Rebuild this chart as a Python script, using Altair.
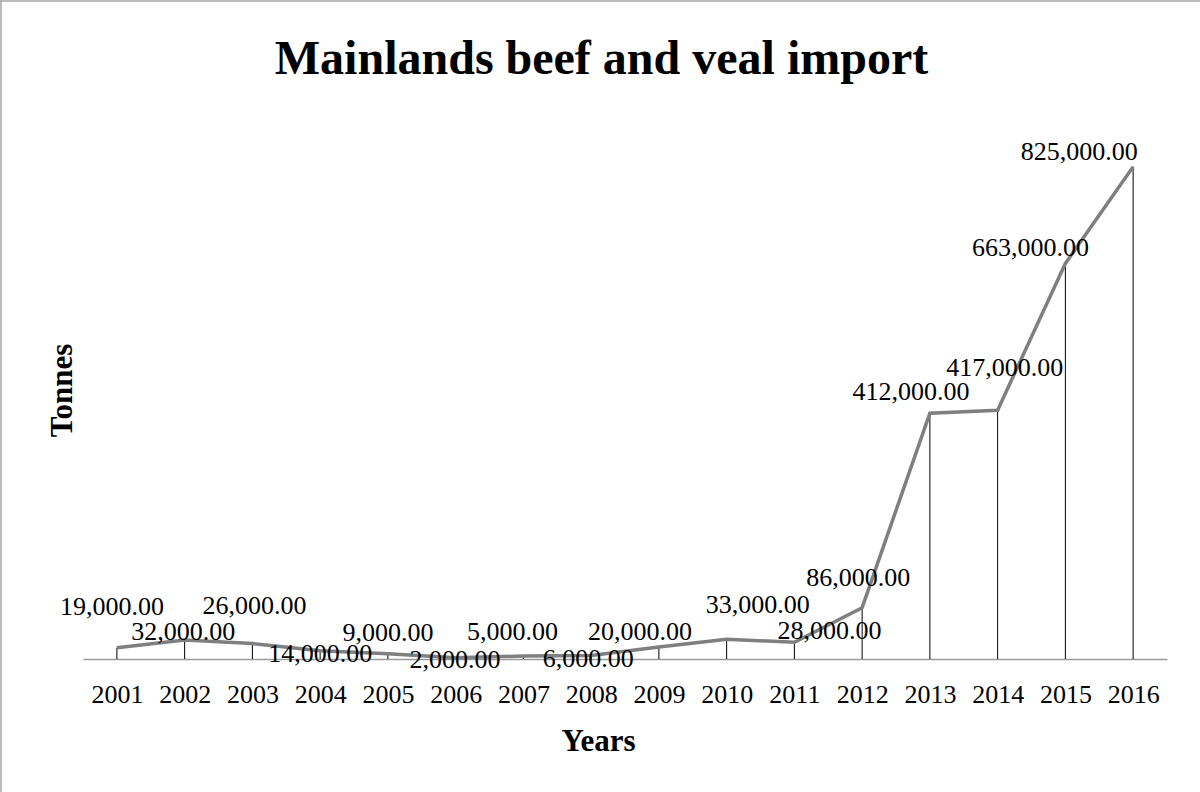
import altair as alt
import pandas as pd

YEARS = ["2001", "2002", "2003", "2004", "2005", "2006", "2007", "2008",
         "2009", "2010", "2011", "2012", "2013", "2014", "2015", "2016"]
TONNES = [19000, 32000, 26000, 14000, 9000, 2000, 5000, 6000,
          20000, 33000, 28000, 86000, 412000, 417000, 663000, 825000]

# label placement (pixel nudges, styling only)
LABEL_DX = [-5, -1.5, 2, 0, 0, -0.6, -11, -3, -19, 31, 35, -4, -19, 7, -35, -54]
LABEL_DY = [-33, 0, -29.5, 11.4, -12.6, 10, -16, 11.6, -7, -26, -3, -22, -13, -34, -7, -7]

FONT = "Liberation Serif"
W, H = 1084, 537

df = pd.DataFrame({"Year": YEARS, "Tonnes": TONNES})

x_enc = alt.X(
    "Year:N", sort=YEARS,
    scale=alt.Scale(type="point", padding=0.5),
    axis=alt.Axis(
        title="Years", labelAngle=0, labelFont=FONT, labelFontSize=26,
        labelColor="black", labelBaseline="alphabetic", labelPadding=43,
        labelOverlap=False, ticks=False, tickSize=0, domainColor="#9a9a9a",
        domainWidth=1.5, grid=False, titleFont=FONT, titleFontSize=31,
        titleFontWeight="bold", titleColor="black", titleX=515, titleY=91,
        titleBaseline="alphabetic", titleAlign="center",
    ),
)
y_enc = alt.Y(
    "Tonnes:Q", scale=alt.Scale(domain=[0, 900000], nice=False),
    axis=alt.Axis(
        title="Tonnes", labels=False, ticks=False, domain=False, grid=False,
        titleFont=FONT, titleFontSize=31, titleFontWeight="bold",
        titleColor="black", titleX=-21, titleY=268, titleAngle=270,
        titleBaseline="middle", titleAlign="center",
    ),
)

base = alt.Chart(df)

drops = base.mark_rule(color="black", strokeWidth=1).encode(
    x=x_enc, y=y_enc, y2=alt.datum(0)
)
line = base.mark_line(color="#7f7f7f", strokeWidth=3.5).encode(x=x_enc, y=y_enc)

label_layers = []
for yr, dx, dy in zip(YEARS, LABEL_DX, LABEL_DY):
    label_layers.append(
        base.transform_filter(alt.datum.Year == yr)
        .mark_text(font=FONT, fontSize=26, color="black", align="center",
                   baseline="alphabetic", dx=dx, dy=dy)
        .encode(x=x_enc, y=y_enc, text=alt.Text("Tonnes:Q", format=",.2f"))
    )

one = alt.Chart(pd.DataFrame({"k": [0]}))
border_left = one.mark_rule(color="#a6a6a6", strokeWidth=1.5).encode(
    x=alt.value(-82), y=alt.value(-122), y2=alt.value(680)
)
border_top = one.mark_rule(color="#a6a6a6", strokeWidth=1.5).encode(
    x=alt.value(-83), x2=alt.value(1130), y=alt.value(-121)
)

chart = alt.layer(drops, line, *label_layers, border_left, border_top).properties(
    width=W, height=H,
    title=alt.TitleParams(
        "Mainlands beef and veal import", font=FONT, fontSize=48,
        fontWeight="bold", color="black", anchor="middle", dx=-23.5,
        baseline="alphabetic", offset=-122.75,
    ),
    autosize=alt.AutoSizeParams(type="none"),
    padding={"left": 83, "top": 122, "right": 33, "bottom": 133},
    background="white",
).configure_view(stroke=None)

chart.save("out.html", embed_options={"renderer": "svg", "actions": False})
